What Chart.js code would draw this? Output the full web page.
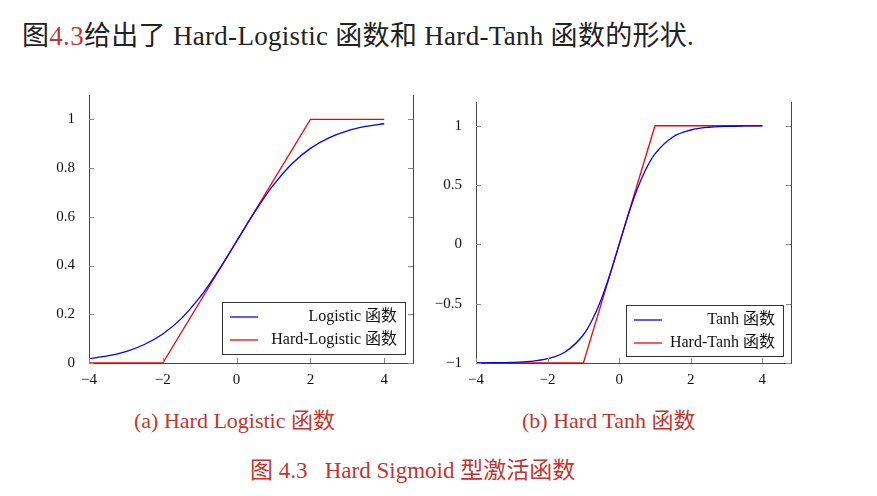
<!DOCTYPE html>
<html><head><meta charset="utf-8">
<script src="https://cdn.jsdelivr.net/npm/chart.js@4"></script>
<style>
body{margin:0;width:877px;height:496px;background:#fff;position:relative;overflow:hidden;font-family:"Liberation Serif","Noto Sans CJK SC",serif;}
.t{position:absolute;white-space:nowrap;}
canvas{position:absolute;}
.red{color:#c8322d;}
</style></head><body>
<div class="t" style="left:22px;top:14px;font-size:27px;letter-spacing:0.3px;color:#222">图<span class="red">4.3</span>给出了 Hard-Logistic 函数和 Hard-Tanh 函数的形状.</div>
<div class="t red" style="left:134px;top:402px;font-size:22px">(a) Hard Logistic 函数</div>
<div class="t red" style="left:522px;top:402px;font-size:22px">(b) Hard Tanh 函数</div>
<div class="t red" style="left:250px;top:451px;font-size:23px">图 4.3&nbsp;&nbsp;&nbsp;Hard Sigmoid 型激活函数</div>
<div style="position:absolute;left:0;top:80px;width:430px;height:320px"><canvas id="c1"></canvas></div>
<div style="position:absolute;left:430px;top:80px;width:380px;height:320px"><canvas id="c2"></canvas></div>
<script>
const xs = [-4,-3.5,-3,-2.5,-2,-1.5,-1,-0.75,-0.5,-0.25,0,0.25,0.5,0.75,1,1.5,2,2.5,3,3.5,4];
const logistic = [0.018,0.029,0.047,0.076,0.119,0.182,0.269,0.321,0.378,0.438,0.5,0.562,0.622,0.679,0.731,0.818,0.881,0.924,0.953,0.971,0.982];
const tanhV = [-0.999,-0.998,-0.995,-0.987,-0.964,-0.905,-0.762,-0.635,-0.462,-0.245,0,0.245,0.462,0.635,0.762,0.905,0.964,0.987,0.995,0.998,0.999];
const hardLogX = [-4,-2,2,4], hardLogY = [0,0,1,1];
const hardTanhX = [-4,-1,1,4], hardTanhY = [-1,-1,1,1];
const xTicks = [-4,-2,0,2,4];
const yTicks1 = [0,0.2,0.4,0.6,0.8,1];
const yTicks2 = [-1,-0.5,0,0.5,1];
const legend1 = ['Logistic 函数','Hard-Logistic 函数'];
const legend2 = ['Tanh 函数','Hard-Tanh 函数'];

const FONT = {family:'"Liberation Serif","Noto Sans CJK SC",serif', size:15};
const fmt = v => (v<0?'−':'') + String(Math.abs(v));
function pts(x,y){return x.map((v,i)=>({x:v,y:y[i]}));}

const deco = {
  id:'deco',
  afterDraw(c, args, o){
    const ctx=c.ctx, a=c.chartArea, xs_=c.scales.x, ys=c.scales.y;
    ctx.save(); ctx.strokeStyle='#444'; ctx.lineWidth=1;
    ctx.beginPath(); ctx.moveTo(a.right+0.5,a.top); ctx.lineTo(a.right+0.5,a.bottom); ctx.stroke();
    ctx.strokeStyle='#888';
    o.yt.forEach(v=>{const p=Math.round(ys.getPixelForValue(v))+0.5;
      ctx.beginPath();ctx.moveTo(a.left,p);ctx.lineTo(a.left+5,p);ctx.moveTo(a.right,p);ctx.lineTo(a.right-5,p);ctx.stroke();});
    o.xt.forEach(v=>{const p=Math.round(xs_.getPixelForValue(v))+0.5;
      ctx.beginPath();ctx.moveTo(p,a.bottom);ctx.lineTo(p,a.bottom-5);ctx.stroke();});
    const [bx,by,bw,bh]=o.box;
    ctx.fillStyle='#fff'; ctx.fillRect(bx,by,bw,bh);
    ctx.strokeStyle='#333'; ctx.strokeRect(bx+0.5,by+0.5,bw,bh);
    ctx.font='16px '+FONT.family; ctx.textAlign='right'; ctx.textBaseline='middle'; ctx.fillStyle='#111';
    const cols=['#0000ff','#ff0000'];
    o.labels.forEach((l,i)=>{const yy=by+15+i*23;
      ctx.strokeStyle=cols[i]; ctx.lineWidth=1.3; ctx.beginPath(); ctx.moveTo(bx+8,yy); ctx.lineTo(bx+36,yy); ctx.stroke();
      ctx.fillText(l,bx+bw-8,yy);});
    ctx.restore();
  }
};

function make(id, curve, hx, hy, ymin, ymax, xmax, yt, yw, pad, labels, box){
  new Chart(document.getElementById(id), {
    type:'scatter',
    data:{datasets:[
      {data:pts(xs,curve),showLine:true,borderColor:'#0000ff',borderWidth:1.3,pointRadius:0,cubicInterpolationMode:'monotone'},
      {data:pts(hx,hy),showLine:true,borderColor:'#ff0000',borderWidth:1.3,pointRadius:0}
    ]},
    options:{responsive:true,maintainAspectRatio:false,animation:false,
      layout:{padding:pad},
      plugins:{legend:{display:false},tooltip:{enabled:false},deco:{yt,xt:xTicks,labels,box}},
      scales:{
        x:{type:'linear',min:-4,max:xmax,afterBuildTicks:s=>{s.ticks=xTicks.map(v=>({value:v}));},
          afterFit:s=>{s.height=37;},
          ticks:{callback:fmt,font:FONT,color:'#111',padding:0,maxRotation:0},
          grid:{display:false},border:{color:'#444'}},
        y:{min:ymin,max:ymax,afterBuildTicks:s=>{s.ticks=yt.map(v=>({value:v}));},
          afterFit:s=>{s.width=yw;},
          ticks:{callback:fmt,font:FONT,color:'#111',padding:6},
          grid:{display:false},border:{color:'#444'}}
      }},
    plugins:[deco]
  });
}
make('c1',logistic,hardLogX,hardLogY,0,1.1,4.78,yTicks1,89,{top:13,right:17,left:0,bottom:0},legend1,[222,222,183,52]);
make('c2',tanhV,hardTanhX,hardTanhY,-1,1.2,4.8,yTicks2,46,{top:22,right:19,left:0,bottom:0},legend2,[196,225,157,51]);
</script>
</body></html>
